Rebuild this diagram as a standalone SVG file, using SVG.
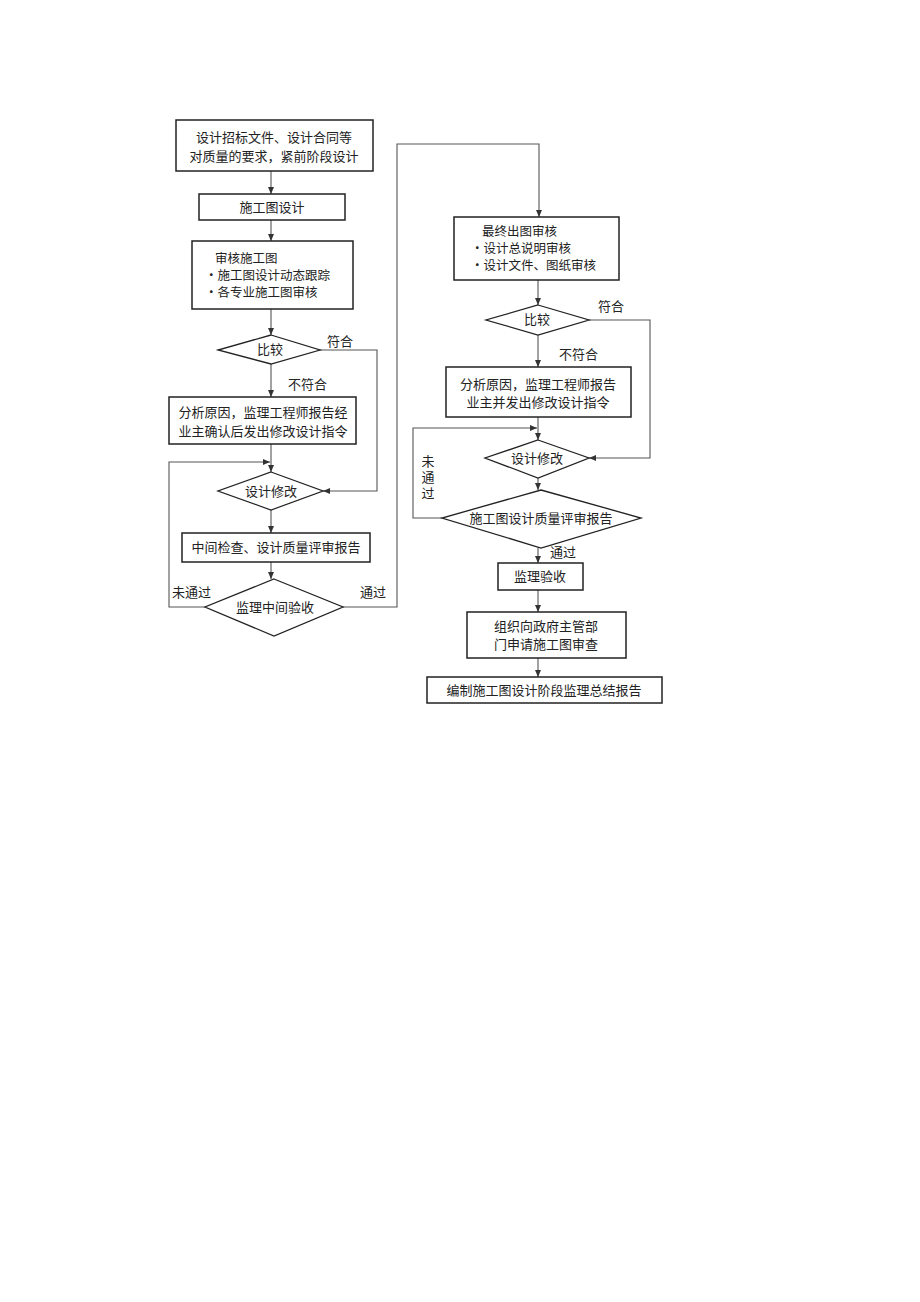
<svg xmlns="http://www.w3.org/2000/svg" width="920" height="1302" viewBox="0 0 920 1302">
<style>
.box{fill:#fff;stroke:#222;stroke-width:1.5}
.dia{fill:#fff;stroke:#222;stroke-width:1.3}
.c{fill:none;stroke:#555;stroke-width:1.1}
text{font-family:"Noto Sans CJK SC","Noto Sans",sans-serif;font-size:13px;fill:#222}
.s{font-size:12.5px}
.m{text-anchor:middle}
</style>
<defs>
<marker id="a" markerWidth="8" markerHeight="8" refX="7" refY="4" orient="auto" markerUnits="userSpaceOnUse">
<path d="M0,1 L7,4 L0,7 Z" fill="#333"/>
</marker>
</defs>
<rect width="920" height="1302" fill="#fff"/>
<g id="connectors">
<path class="c" d="M271,171 V194" marker-end="url(#a)"/>
<path class="c" d="M271,220 V241" marker-end="url(#a)"/>
<path class="c" d="M271,309 V335" marker-end="url(#a)"/>
<path class="c" d="M271,364 V397" marker-end="url(#a)"/>
<path class="c" d="M271,444 V472" marker-end="url(#a)"/>
<path class="c" d="M271,510 V533" marker-end="url(#a)"/>
<path class="c" d="M271,562 V579" marker-end="url(#a)"/>
<path class="c" d="M319,350 H377 V491 H323" marker-end="url(#a)"/>
<path class="c" d="M205,607 H169 V462 H270" marker-end="url(#a)"/>
<path class="c" d="M343,607 H397 V144 H539 V217" marker-end="url(#a)"/>
<path class="c" d="M538,280 V305" marker-end="url(#a)"/>
<path class="c" d="M538,335 V367" marker-end="url(#a)"/>
<path class="c" d="M589,320 H650 V458 H589" marker-end="url(#a)"/>
<path class="c" d="M538,417 V440" marker-end="url(#a)"/>
<path class="c" d="M442,518 H413 V428 H537" marker-end="url(#a)"/>
<path class="c" d="M538,478 V490" marker-end="url(#a)"/>
<path class="c" d="M538,548 V563" marker-end="url(#a)"/>
<path class="c" d="M538,590 V612" marker-end="url(#a)"/>
<path class="c" d="M538,658 V677" marker-end="url(#a)"/>
<text x="327" y="346">符合</text>
<text x="288" y="389">不符合</text>
<text x="172" y="597">未通过</text>
<text x="360" y="597">通过</text>
<text x="598" y="311">符合</text>
<text x="559" y="359">不符合</text>
<text x="428" y="455" writing-mode="vertical-rl" letter-spacing="3">未通过</text>
<text x="550" y="557">通过</text>
</g>
<g id="n1"><rect class="box" x="176" y="120" width="197" height="51"/>
<text class="m" x="274" y="142">设计招标文件、设计合同等</text>
<text class="m" x="274" y="161">对质量的要求，紧前阶段设计</text></g>
<g id="n2"><rect class="box" x="199" y="194" width="146" height="26"/>
<text class="m" x="272" y="212">施工图设计</text></g>
<g id="n3"><rect class="box" x="192" y="241" width="161" height="68"/>
<text class="s" x="215" y="263">审核施工图</text>
<text class="s" x="205" y="280">·施工图设计动态跟踪</text>
<text class="s" x="205" y="297">·各专业施工图审核</text></g>
<g id="n4"><polygon class="dia" points="271,335 320,350 271,364 218,350"/>
<text class="m" x="270" y="354">比较</text></g>
<g id="n5"><rect class="box" x="169" y="397" width="187" height="47"/>
<text class="m" x="263" y="417">分析原因，监理工程师报告经</text>
<text class="m" x="263" y="436">业主确认后发出修改设计指令</text></g>
<g id="n6"><polygon class="dia" points="271,472 323,491 271,510 218,491"/>
<text class="m" x="271" y="496">设计修改</text></g>
<g id="n7"><rect class="box" x="182" y="533" width="188" height="29"/>
<text class="m" x="276" y="552">中间检查、设计质量评审报告</text></g>
<g id="n8"><polygon class="dia" points="274,579 343,607 274,636 205,607"/>
<text class="m" x="275" y="612">监理中间验收</text></g>
<g id="n9"><rect class="box" x="454" y="217" width="165" height="63"/>
<text class="s" x="482" y="236">最终出图审核</text>
<text class="s" x="471" y="253">·设计总说明审核</text>
<text class="s" x="471" y="270">·设计文件、图纸审核</text></g>
<g id="n10"><polygon class="dia" points="538,305 589,320 538,335 486,320"/>
<text class="m" x="537" y="324">比较</text></g>
<g id="n11"><rect class="box" x="446" y="367" width="185" height="50"/>
<text class="m" x="538" y="389">分析原因，监理工程师报告</text>
<text class="m" x="538" y="407">业主并发出修改设计指令</text></g>
<g id="n12"><polygon class="dia" points="538,440 589,458 538,478 485,458"/>
<text class="m" x="537" y="463">设计修改</text></g>
<g id="n13"><polygon class="dia" points="541,490 641,518 541,548 442,518"/>
<text class="m" x="541" y="523">施工图设计质量评审报告</text></g>
<g id="n14"><rect class="box" x="498" y="563" width="85" height="27"/>
<text class="m" x="540" y="581">监理验收</text></g>
<g id="n15"><rect class="box" x="467" y="612" width="159" height="46"/>
<text class="m" x="546" y="631">组织向政府主管部</text>
<text class="m" x="546" y="649">门申请施工图审查</text></g>
<g id="n16"><rect class="box" x="427" y="677" width="235" height="26"/>
<text class="m" x="544" y="695">编制施工图设计阶段监理总结报告</text></g>
</svg>
